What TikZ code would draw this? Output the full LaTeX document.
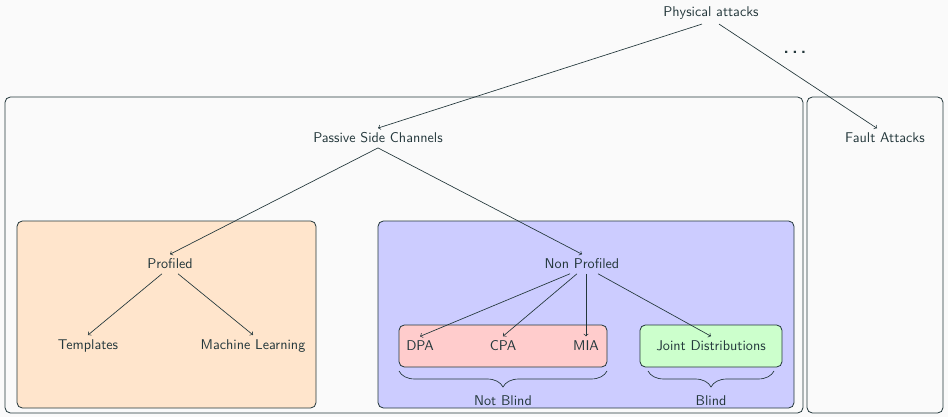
\documentclass[tikz,border=0pt]{standalone}
\usetikzlibrary{decorations.pathreplacing,calc}
\definecolor{ink}{HTML}{23373B}
\definecolor{paper}{HTML}{FAFAFA}
\begin{document}
\begin{tikzpicture}[x=0.75pt,y=-0.75pt,
  every node/.style={font=\sffamily\fontsize{10.6}{12}\selectfont, text=ink},
  conn/.style={draw=ink, line width=0.5pt, ->, >=to},
  panel/.style={draw=ink, line width=0.6pt, rounded corners=4pt},
  bracestyle/.style={draw=ink, line width=0.5pt, decorate, decoration={brace, amplitude=12pt}}]
  % canvas
  \fill[paper] (0,0) rectangle (948,417);
  \useasboundingbox (0,0) rectangle (948,417);
  % group frames
  \draw[panel, fill=paper] (5,97) rectangle (803,413);
  \draw[panel, fill=paper] (807,97) rectangle (943,413);
  \draw[panel, fill=orange!20] (17,221) rectangle (316,408);
  \draw[panel, fill=blue!20] (378,221) rectangle (794,408);
  \draw[panel, fill=red!20] (399,325) rectangle (607,367);
  \draw[panel, fill=green!20] (640,325) rectangle (782,367);
  % nodes
  \node (phys) at (711,13) {Physical attacks};
  \node[font=\sffamily\fontsize{21}{24}\selectfont] (dots) at (795,52) {.\kern1pt.\kern1pt.};
  \node (psc) at (378,138) {Passive Side Channels};
  \node (fault) at (885,138) {Fault Attacks};
  \node (prof) at (170,264) {Profiled};
  \node (nprof) at (582,264) {Non Profiled};
  \node (tmpl) at (88,346) {Templates};
  \node (ml) at (253,346) {Machine Learning};
  \node (dpa) at (420,346) {DPA};
  \node (cpa) at (503,346) {CPA};
  \node (mia) at (586,346) {MIA};
  \node (joint) at (711,346) {Joint Distributions};
  \node (nb) at (503,401) {Not Blind};
  \node (bl) at (711,401) {Blind};
  % connectors
  \draw[conn] ($(phys.south)+(-9,0)$) -- (psc.north);
  \draw[conn] ($(phys.south)+(8,0)$) -- ($(fault.north)+(-8,0)$);
  \draw[conn] (psc.south) -- (prof.north);
  \draw[conn] (psc.south) -- (nprof.north);
  \draw[conn] ($(prof.south)+(-8,0)$) -- (tmpl.north);
  \draw[conn] ($(prof.south)+(8,0)$) -- (ml.north);
  \draw[conn] ($(nprof.south)+(-12,0)$) -- (dpa.north);
  \draw[conn] ($(nprof.south)+(-5,0)$) -- (cpa.north);
  \draw[conn] ($(nprof.south)+(4,0)$) -- (mia.north);
  \draw[conn] ($(nprof.south)+(16,0)$) -- (joint.north);
  % braces
  \coordinate (nbR) at (607,371);
  \coordinate (nbL) at (399,371);
  \coordinate (blR) at (774,371);
  \coordinate (blL) at (648,371);
  \draw[bracestyle] (nbR) -- (nbL);
  \draw[bracestyle] (blR) -- (blL);
\end{tikzpicture}
\end{document}
